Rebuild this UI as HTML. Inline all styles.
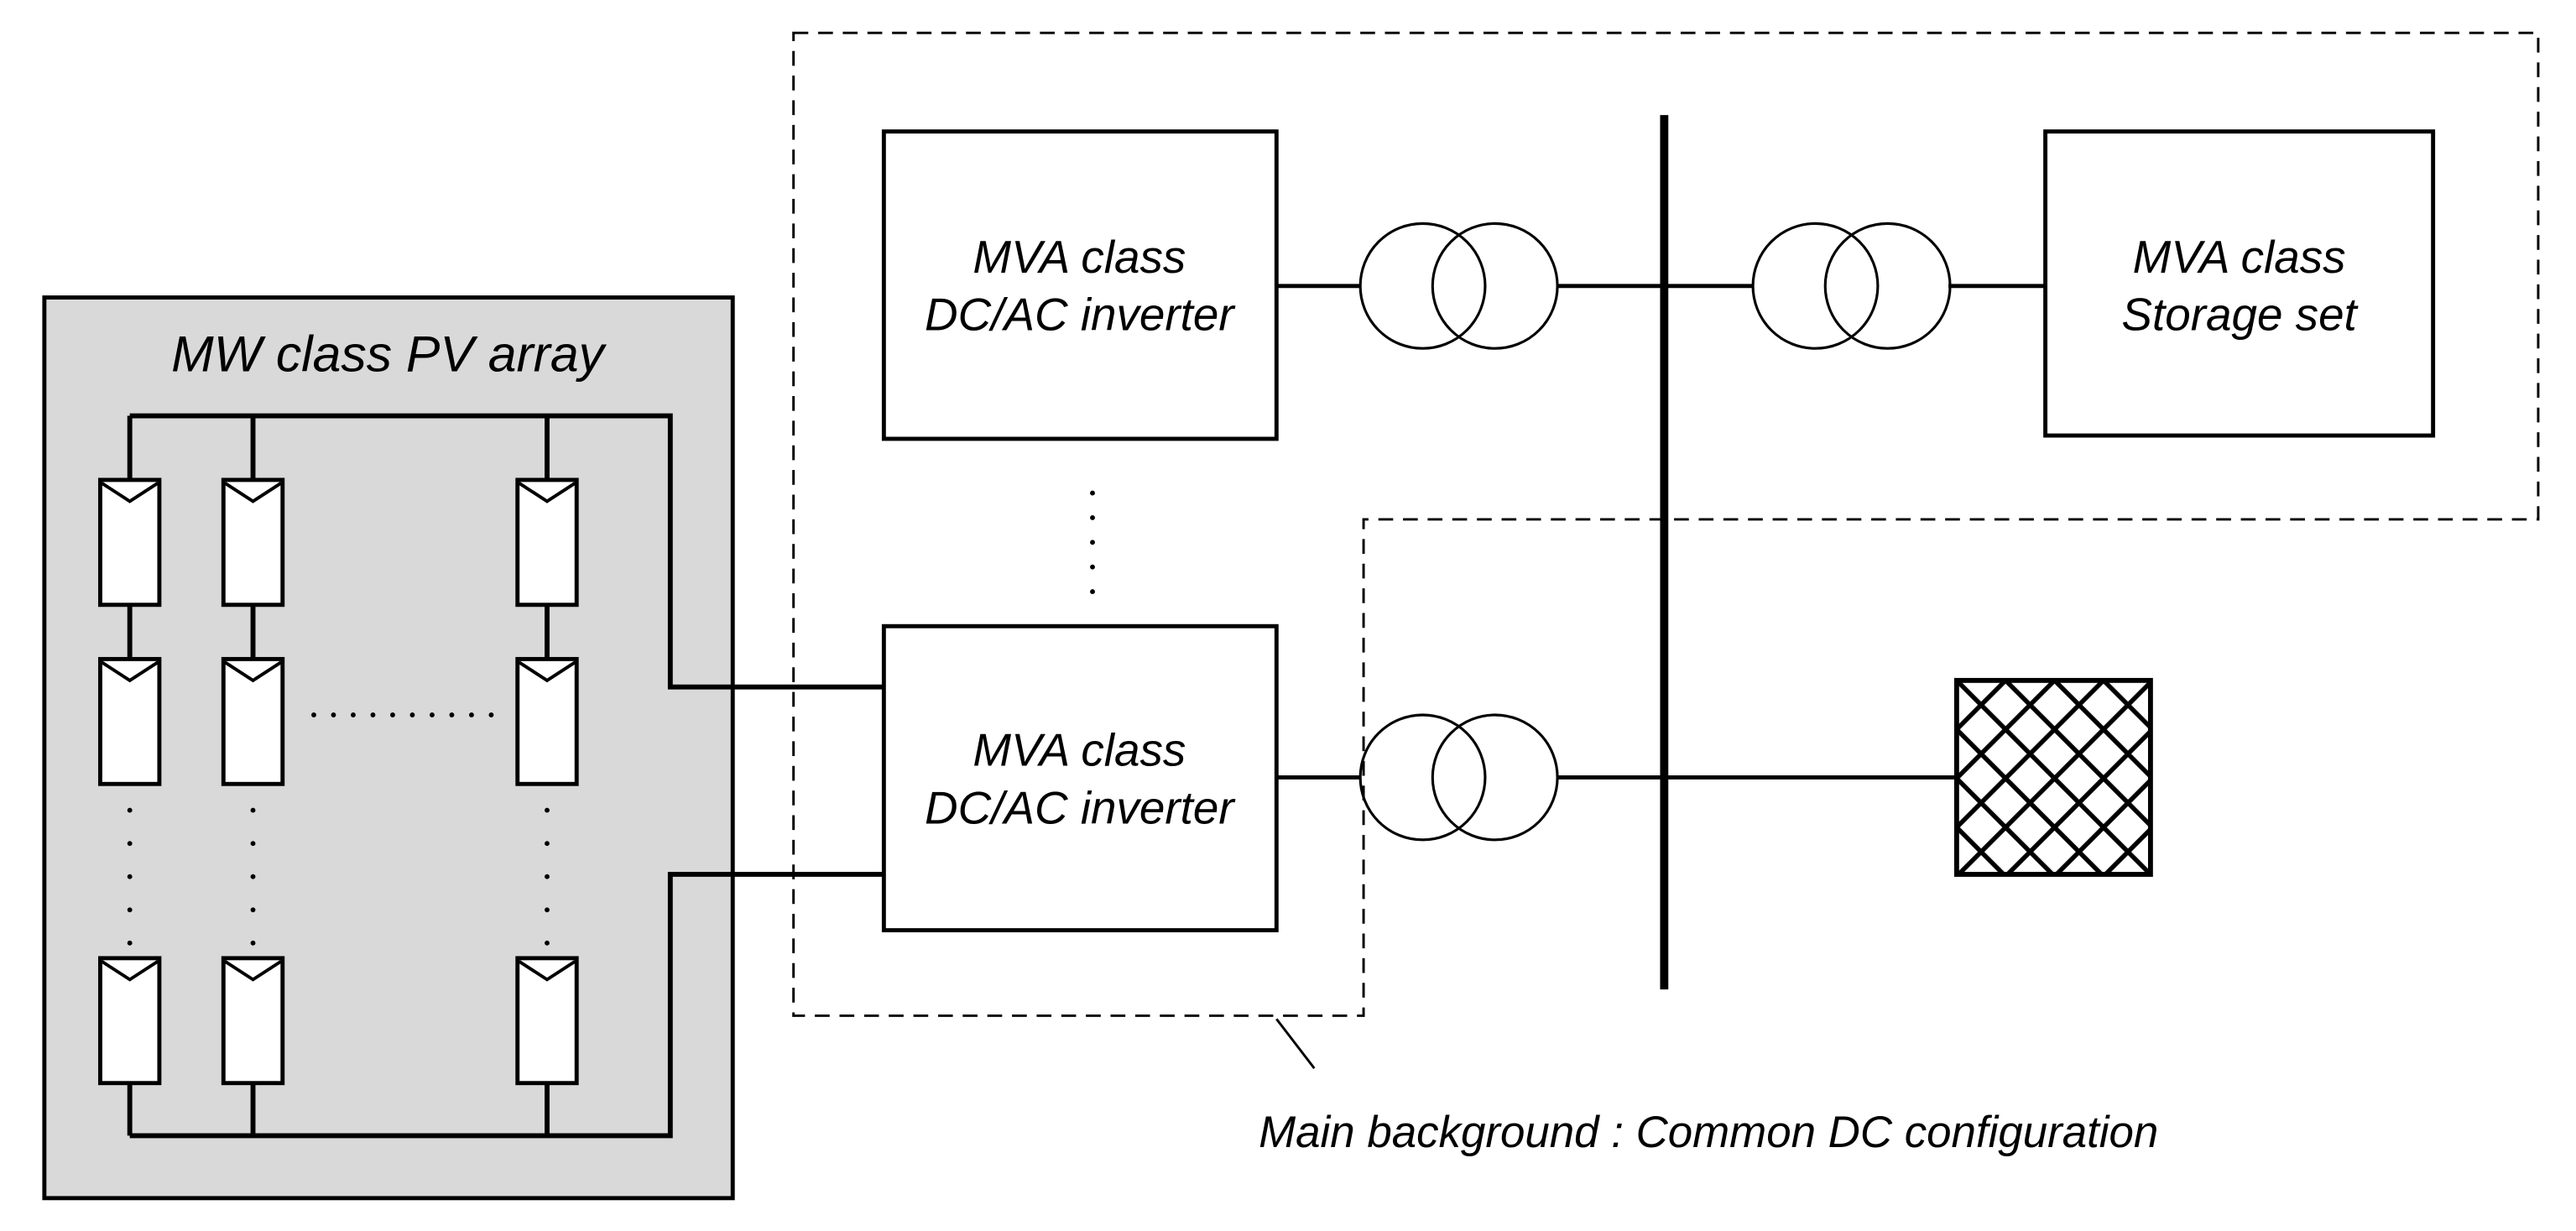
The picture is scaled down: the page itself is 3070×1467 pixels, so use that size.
<!DOCTYPE html>
<html><head><meta charset="utf-8"><style>html,body{margin:0;padding:0;background:#fff}svg{display:block}</style></head>
<body>
<svg width="3070" height="1467" viewBox="0 0 1568 749" preserveAspectRatio="none" xmlns="http://www.w3.org/2000/svg">
<defs>
<pattern id="h" x="1191" y="414" width="29.8" height="29.8" patternUnits="userSpaceOnUse">
<path d="M0,0L29.8,29.8M29.8,0L0,29.8M-3,3L3,-3M26.8,32.8L32.8,26.8M-3,26.8L3,32.8M26.8,-3L32.8,3" stroke="#000" stroke-width="2.8"/>
</pattern>
</defs>
<g font-family="Liberation Sans, sans-serif" font-style="italic" font-size="28" text-anchor="middle" fill="#000">
<rect x="27" y="181" width="419" height="548" fill="#d9d9d9" stroke="#000" stroke-width="2.5"/>
<text x="236" y="226" font-size="31">MW class PV array</text>
<g fill="none" stroke="#000" stroke-width="3">
<path d="M79,253H408V418H538"/>
<path d="M79,691H408V532H538"/>
<path d="M79,253V292M79,368V401M79,659V691"/>
<path d="M154,253V292M154,368V401M154,659V691"/>
<path d="M333,253V292M333,368V401M333,659V691"/>
</g>
<g fill="#fff" stroke="#000" stroke-width="2.5">
<rect x="61" y="292" width="36" height="76"/><rect x="136" y="292" width="36" height="76"/><rect x="315" y="292" width="36" height="76"/>
<rect x="61" y="401" width="36" height="76"/><rect x="136" y="401" width="36" height="76"/><rect x="315" y="401" width="36" height="76"/>
<rect x="61" y="583" width="36" height="76"/><rect x="136" y="583" width="36" height="76"/><rect x="315" y="583" width="36" height="76"/>
</g>
<g fill="none" stroke="#000" stroke-width="2">
<path d="M62,294L79,305L96,294M137,294L154,305L171,294M316,294L333,305L350,294"/>
<path d="M62,403L79,414L96,403M137,403L154,414L171,403M316,403L333,414L350,403"/>
<path d="M62,585L79,596L96,585M137,585L154,596L171,585M316,585L333,596L350,585"/>
</g>
<g fill="none" stroke="#000" stroke-width="3" stroke-linecap="round">
<path d="M191,435H303" stroke-dasharray="0 12"/>
<path d="M79,493V574M154,493V574M333,493V574" stroke-dasharray="0 20.2"/>
<path d="M665,300V362" stroke-dasharray="0 15"/>
</g>
<path d="M483,20H1545V316H830V618H483Z" fill="none" stroke="#000" stroke-width="1.5" stroke-dasharray="9 6"/>
<path d="M777,620L800,650" stroke="#000" stroke-width="1.5"/>
<g fill="#fff" stroke="#000" stroke-width="2.5">
<rect x="538" y="80" width="239" height="187"/>
<rect x="538" y="381" width="239" height="185"/>
<rect x="1245" y="80" width="236" height="185"/>
</g>
<text x="657" y="166">MVA class</text><text x="657" y="201">DC/AC inverter</text>
<text x="657" y="466">MVA class</text><text x="657" y="501">DC/AC inverter</text>
<text x="1363" y="166">MVA class</text><text x="1363" y="201">Storage set</text>
<g stroke="#000" stroke-width="2.5" fill="none">
<path d="M777,174H828M948,174H1067M1186,174H1245"/>
<path d="M777,473H828M948,473H1191"/>
</g>
<g stroke="#000" stroke-width="1.6" fill="none">
<circle cx="866" cy="174" r="38"/><circle cx="910" cy="174" r="38"/>
<circle cx="1105" cy="174" r="38"/><circle cx="1149" cy="174" r="38"/>
<circle cx="866" cy="473" r="38"/><circle cx="910" cy="473" r="38"/>
</g>
<path d="M1013,70V602" stroke="#000" stroke-width="5"/>
<rect x="1191" y="414" width="118" height="118" fill="url(#h)" stroke="#000" stroke-width="3"/>
<text x="1040" y="698" font-size="27">Main background : Common DC configuration</text>
</g>
</svg>
</body></html>
